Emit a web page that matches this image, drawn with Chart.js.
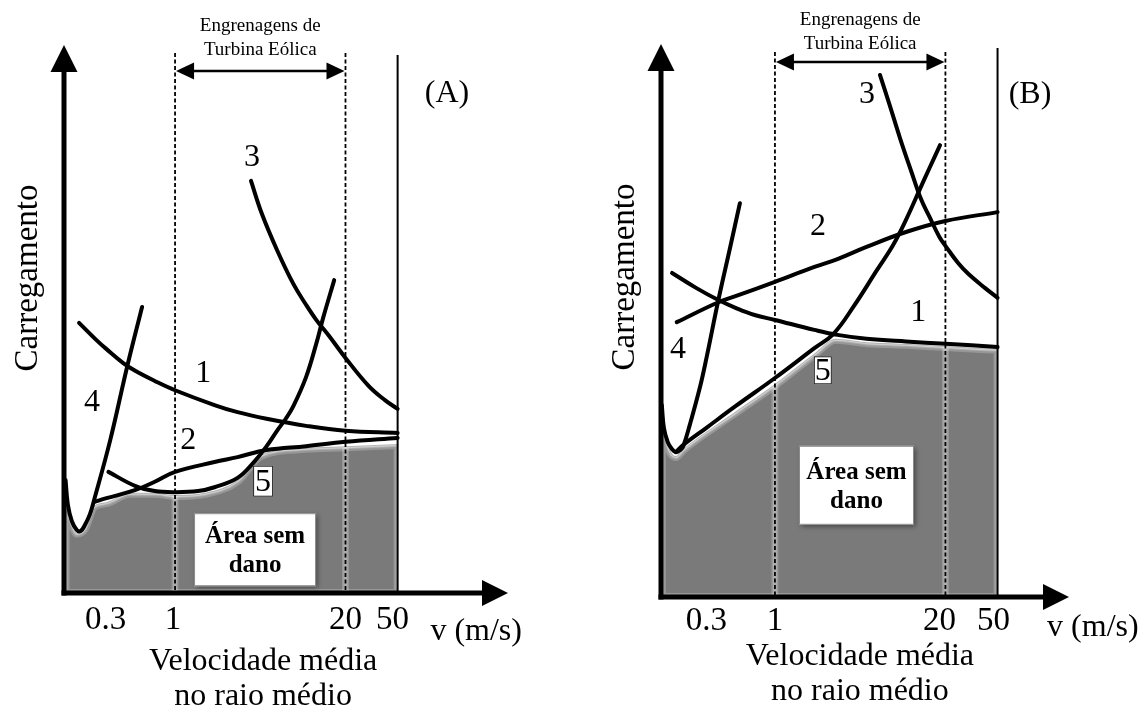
<!DOCTYPE html>
<html>
<head>
<meta charset="utf-8">
<script src="https://cdn.jsdelivr.net/npm/chart.js@4.4.1/dist/chart.umd.min.js"></script>
<style>
  html, body { margin: 0; padding: 0; background: #fff; }
  #wrap { position: relative; width: 1144px; height: 713px; overflow: hidden; }
  canvas { position: absolute; top: 0; }
  #painelA { left: 0; }
  #painelB { left: 572px; }
</style>
</head>
<body>
<div id="wrap">
  <canvas id="painelA" width="572" height="713"></canvas>
  <canvas id="painelB" width="572" height="713"></canvas>
</div>
<script>
// eixo x: velocidade média no raio médio (m/s), escala log
const xTicks = [0.3, 1, 20, 50];
const xTickLabels = ['0.3', '1', '20', '50'];
const faixaEngrenagens = [1, 20];
const vLimite = 50;

// Painel A - carregamento (unidades arbitrárias, 0 a 100)
const aV1 = [0.185, 0.25, 0.3, 0.4, 0.5, 0.7, 1, 2, 3, 5, 10, 20, 50];
const aC1 = [49.3, 46.2, 44.5, 42.0, 40.5, 38.7, 37.0, 34.3, 33.0, 31.8, 30.5, 29.6, 29.2];
const aV2 = [0.24, 0.3, 0.5, 0.7, 1, 2, 3, 5, 10, 20, 50];
const aC2 = [16.6, 17.3, 18.8, 20.3, 22.1, 23.9, 24.8, 26.1, 26.8, 27.6, 28.3];
const aV3 = [3.8, 4.6, 6, 8, 10, 12, 15, 20, 30, 40, 50];
const aC3 = [75.2, 69.2, 62.6, 56.4, 52.6, 49.8, 46.9, 42.9, 37.8, 35.2, 33.6];
const aV4 = [0.146, 0.152, 0.163, 0.178, 0.19, 0.205, 0.224, 0.24, 0.32, 0.43, 0.56];
const aC4 = [20.6, 16.1, 13.1, 11.5, 11.3, 12.4, 14.4, 16.8, 27.9, 41.2, 52.2];
const aV5 = [0.31, 0.5, 0.7, 1, 1.5, 2, 3, 4, 5, 6, 7, 8, 10, 12, 13.5, 16.4];
const aC5 = [22.1, 19.5, 18.6, 18.4, 18.6, 19.3, 21.0, 23.9, 26.8, 29.6, 31.8, 34.1, 39.4, 45.6, 50.2, 57.1];
// área sem dano (A)
const aAreaV = [0.146, 0.152, 0.163, 0.178, 0.205, 0.24, 0.3, 0.45, 0.7, 1, 1.7, 3, 4.5, 10, 20, 50];
const aAreaC = [19.7, 15.1, 12.6, 10.8, 11.7, 15.7, 16.4, 18.1, 18.1, 17.7, 18.1, 20.4, 25.0, 26.3, 26.6, 27.0];

// Painel B
const bV1 = [0.164, 0.25, 0.37, 0.5, 0.7, 1, 2, 3, 5, 10, 20, 50];
const bC1 = [58.6, 55.9, 53.7, 52.3, 51.0, 50.1, 48.3, 47.4, 46.7, 46.2, 45.8, 45.2];
const bV2 = [0.178, 0.37, 0.5, 1, 2, 3, 5, 10, 20, 50];
const bC2 = [49.7, 53.3, 54.4, 57.0, 59.7, 61.1, 63.3, 66.0, 68.0, 69.6];
const bV3 = [6.33, 7.5, 9, 11, 13, 15, 18, 20, 25, 30, 40, 50];
const bC3 = [94.4, 89.0, 83.0, 76.9, 72.0, 68.9, 65.1, 63.5, 60.4, 58.4, 55.9, 54.1];
const bV4 = [0.137, 0.142, 0.152, 0.163, 0.175, 0.19, 0.2, 0.225, 0.27, 0.3, 0.37, 0.45, 0.54];
const bC4 = [34.7, 30.6, 28.0, 26.8, 26.2, 26.6, 27.3, 31.3, 38.3, 43.2, 53.7, 62.7, 71.2];
const bV5 = [0.175, 0.2, 0.3, 0.5, 1, 2, 2.8, 4, 6, 8, 10, 12.8, 15, 18.2];
const bC5 = [26.2, 27.5, 30.6, 34.5, 39.6, 45.0, 47.6, 52.6, 59.1, 63.7, 68.2, 73.8, 77.4, 81.7];
// área sem dano (B)
const bAreaV = [0.137, 0.152, 0.175, 0.2, 0.5, 1, 2, 2.9, 5, 10, 20, 50];
const bAreaC = [33.5, 27.3, 25.3, 26.6, 33.3, 38.3, 43.8, 46.5, 45.9, 45.6, 45.2, 44.7];

const FONTE = "'Liberation Serif', 'Times New Roman', serif";

function pts(v, c) {
  return v.map((x, i) => ({ x: x, y: c[i] }));
}

function plugDesenho(cfg) {
  return {
    id: 'desenho',
    // brilho claro nas bordas da área cinza + linhas tracejadas
    afterDatasetDraw(chart, args) {
      if (args.index !== 0) return;
      const ctx = chart.ctx, ca = chart.chartArea, xs = chart.scales.x;
      const meta = chart.getDatasetMeta(0);
      const p = meta.data;
      const xs0 = p[0].x, xs1 = p[p.length - 1].x;

      ctx.save();
      ctx.beginPath();
      meta.dataset.path(ctx);
      ctx.lineTo(xs1, ca.bottom);
      ctx.lineTo(xs0, ca.bottom);
      ctx.closePath();
      ctx.clip();
      ctx.strokeStyle = 'rgba(255,255,255,0.22)';
      ctx.lineWidth = 8;
      ctx.stroke();
      ctx.lineWidth = 4;
      ctx.stroke();
      faixaEngrenagens.forEach(v => {
        const px = xs.getPixelForValue(v);
        ctx.beginPath();
        ctx.moveTo(px, ca.top);
        ctx.lineTo(px, ca.bottom);
        ctx.lineWidth = 7;
        ctx.stroke();
        ctx.lineWidth = 4;
        ctx.stroke();
      });
      ctx.restore();

      ctx.save();
      ctx.strokeStyle = '#000';
      ctx.lineWidth = 1.8;
      ctx.setLineDash([4, 2.5]);
      faixaEngrenagens.forEach(v => {
        const px = xs.getPixelForValue(v);
        ctx.beginPath();
        ctx.moveTo(px, ca.top + cfg.dashTop);
        ctx.lineTo(px, ca.bottom);
        ctx.stroke();
      });
      ctx.restore();
    },
    afterDatasetsDraw(chart) {
      const ctx = chart.ctx, ca = chart.chartArea;
      const X = v => chart.scales.x.getPixelForValue(v);
      const Y = c => chart.scales.y.getPixelForValue(c);
      const linha = (x1, y1, x2, y2) => { ctx.beginPath(); ctx.moveTo(x1, y1); ctx.lineTo(x2, y2); ctx.stroke(); };
      const tri = (a, b, c) => { ctx.beginPath(); ctx.moveTo(a[0], a[1]); ctx.lineTo(b[0], b[1]); ctx.lineTo(c[0], c[1]); ctx.closePath(); ctx.fill(); };
      const texto = (s, x, y, tam, peso) => {
        ctx.font = (peso || 'normal') + ' ' + tam + 'px ' + FONTE;
        ctx.fillText(s, x, y);
      };
      ctx.save();
      ctx.strokeStyle = '#000';
      ctx.fillStyle = '#000';

      // linha vertical em 50 m/s
      ctx.lineWidth = 2;
      linha(X(vLimite), ca.top + cfg.limTop, X(vLimite), ca.bottom);

      // eixos com setas
      ctx.lineWidth = 5;
      linha(ca.left, ca.bottom + 2.5, ca.left, ca.top + 26);
      linha(ca.left - 2.5, ca.bottom, ca.right - 25, ca.bottom);
      tri([ca.left, ca.top], [ca.left - 13.5, ca.top + 27], [ca.left + 13.5, ca.top + 27]);
      tri([ca.right, ca.bottom], [ca.right - 26, ca.bottom - 13], [ca.right - 26, ca.bottom + 13]);

      // seta dupla das engrenagens
      const x1 = X(faixaEngrenagens[0]), x2 = X(faixaEngrenagens[1]);
      const ya = ca.top + cfg.arrowDy;
      ctx.lineWidth = 2.5;
      linha(x1 + 12, ya, x2 - 12, ya);
      tri([x1 + 1, ya], [x1 + 19, ya - 8.5], [x1 + 19, ya + 8.5]);
      tri([x2 - 1, ya], [x2 - 19, ya - 8.5], [x2 - 19, ya + 8.5]);

      ctx.textAlign = 'center';
      ctx.textBaseline = 'middle';
      const xm = X(Math.sqrt(faixaEngrenagens[0] * faixaEngrenagens[1]));
      texto('Engrenagens de', xm, ca.top + cfg.engY[0], 19);
      texto('Turbina Eólica', xm, ca.top + cfg.engY[1], 19);

      // marcações do eixo x
      xTicks.forEach((v, i) => texto(xTickLabels[i], X(v) + (cfg.tickShift[i] || 0), ca.bottom + cfg.tickDy, 33));
      texto('v (m/s)', X(cfg.unitV), ca.bottom + cfg.unitDy, 32);
      texto('Velocidade média', X(cfg.titleV), ca.bottom + cfg.titleDy[0], 32);
      texto('no raio médio', X(cfg.titleV), ca.bottom + cfg.titleDy[1], 32);

      // título do eixo y
      ctx.save();
      ctx.translate(ca.left + cfg.yTitleDx, cfg.yTitleY);
      ctx.rotate(-Math.PI / 2);
      texto('Carregamento', 0, 0, 33);
      ctx.restore();

      // identificação do painel e das curvas
      texto(cfg.tag, X(cfg.tagPos[0]), Y(cfg.tagPos[1]), 32);
      cfg.labels.forEach(l => texto(l[0], X(l[1]), Y(l[2]), 32));

      // curva 5 com fundo branco
      const f = cfg.five;
      const fx = X(f.v), fy = Y(f.c);
      ctx.fillStyle = '#fff';
      ctx.fillRect(fx - f.w / 2, fy - f.h / 2, f.w, f.h);
      ctx.lineWidth = 1;
      ctx.strokeStyle = '#222';
      ctx.strokeRect(fx - f.w / 2 + 0.5, fy - f.h / 2 + 0.5, f.w - 1, f.h - 1);
      ctx.fillStyle = '#000';
      texto('5', fx, fy + 1, 32);

      // caixa "Área sem dano"
      const b = cfg.box;
      const bx = X(b.v) - b.w / 2, by = Y(b.c) - b.h / 2;
      ctx.save();
      ctx.shadowColor = 'rgba(0,0,0,0.45)';
      ctx.shadowBlur = 5;
      ctx.shadowOffsetX = 2;
      ctx.shadowOffsetY = 2;
      ctx.fillStyle = '#fff';
      ctx.fillRect(bx, by, b.w, b.h);
      ctx.restore();
      ctx.strokeStyle = '#888';
      ctx.strokeRect(bx + 0.5, by + 0.5, b.w - 1, b.h - 1);
      ctx.fillStyle = '#000';
      texto('Área sem', X(b.v), Y(b.c) - 13, 25, 'bold');
      texto('dano', X(b.v), Y(b.c) + 16, 25, 'bold');

      ctx.restore();
    }
  };
}

function criaPainel(id, curvas, area, cfg) {
  const datasets = [{
    label: 'area',
    data: pts(area[0], area[1]),
    fill: 'origin',
    backgroundColor: '#7a7a7a',
    borderColor: '#b3b3b3',
    borderWidth: 2,
    cubicInterpolationMode: 'monotone',
    order: 1
  }];
  curvas.forEach((c, i) => {
    datasets.push({
      label: 'curva ' + (i + 1),
      data: pts(c[0], c[1]),
      borderColor: '#000',
      borderWidth: 4,
      fill: false,
      tension: 0.4,
      order: 0
    });
  });
  new Chart(document.getElementById(id), {
    type: 'line',
    data: { datasets: datasets },
    options: {
      responsive: false,
      devicePixelRatio: 1,
      animation: false,
      events: [],
      layout: { padding: cfg.pad },
      elements: {
        point: { radius: 0 },
        line: { borderCapStyle: 'round', borderJoinStyle: 'round' }
      },
      scales: {
        x: { type: 'logarithmic', min: cfg.xMin, max: cfg.xMax, bounds: 'data', display: false },
        y: { type: 'linear', min: 0, max: 100, display: false }
      },
      plugins: { legend: { display: false }, tooltip: { enabled: false } }
    },
    plugins: [plugDesenho(cfg)]
  });
}

criaPainel('painelA',
  [[aV1, aC1], [aV2, aC2], [aV3, aC3], [aV4, aC4], [aV5, aC5]],
  [aAreaV, aAreaC],
  {
    pad: { left: 64, right: 64, top: 45, bottom: 120 },
    xMin: 0.142, xMax: 348,
    dashTop: 8, limTop: 10, arrowDy: 26, engY: [-19, 5],
    tickDy: 27, tickShift: [-1, -2, 0, -5], unitV: 199, unitDy: 39, titleV: 4.7, titleDy: [69, 104],
    yTitleDx: -36, yTitleY: 278,
    tag: '(A)', tagPos: [119, 91.2],
    labels: [['1', 1.64, 40.1], ['2', 1.26, 27.9], ['3', 3.87, 79.4], ['4', 0.232, 34.7]],
    five: { v: 4.7, c: 20.4, w: 20, h: 31 },
    box: { v: 4.08, c: 7.9, w: 122, h: 73 }
  });

criaPainel('painelB',
  [[bV1, bC1], [bV2, bC2], [bV3, bC3], [bV4, bC4], [bV5, bC5]],
  [bAreaV, bAreaC],
  {
    pad: { left: 89, right: 75, top: 44, bottom: 116 },
    xMin: 0.135, xMax: 175.5,
    dashTop: 8, limTop: 4, arrowDy: 18, engY: [-24, 0],
    tickDy: 24, tickShift: [0, 0, -6, -4], unitV: 267, unitDy: 31, titleV: 4.45, titleDy: [60, 95],
    yTitleDx: -36, yTitleY: 277,
    tag: '(B)', tagPos: [88.5, 90.8],
    labels: [['1', 12.4, 51.4], ['2', 2.13, 66.9], ['3', 5.04, 90.8], ['4', 0.182, 44.7]],
    five: { v: 2.32, c: 41.0, w: 18, h: 28 },
    box: { v: 4.19, c: 20.2, w: 115, h: 79 }
  });
</script>
</body>
</html>
